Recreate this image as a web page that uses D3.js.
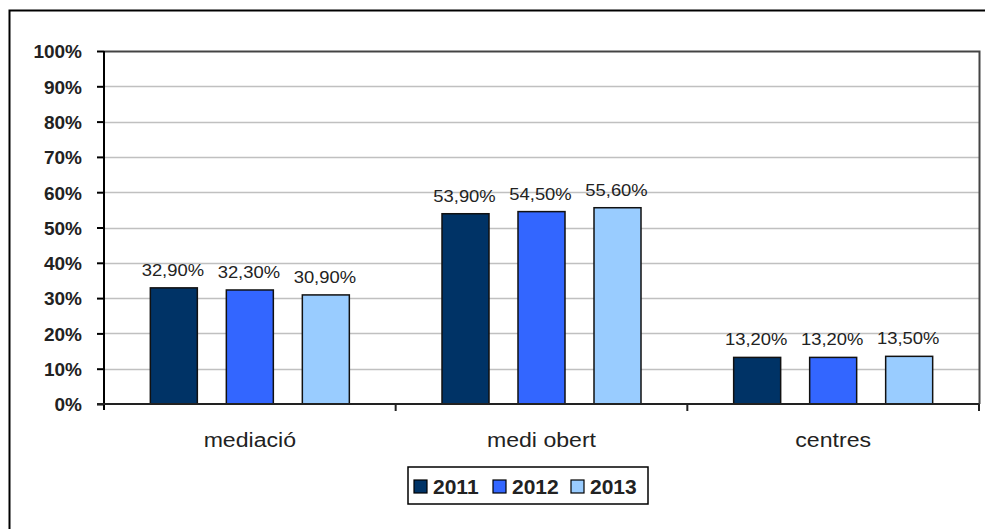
<!DOCTYPE html>
<html><head><meta charset="utf-8">
<script src="https://cdn.jsdelivr.net/npm/d3@7"></script>
<style>body{margin:0;background:#fff}svg{display:block}</style>
</head><body>
<svg id="c" width="985" height="529"></svg>
<script>
const categories = ["mediació", "medi obert", "centres"];
const seriesNames = ["2011", "2012", "2013"];
const values2011 = [32.9, 53.9, 13.2];
const values2012 = [32.3, 54.5, 13.2];
const values2013 = [30.9, 55.6, 13.5];
const yTicks = [0,10,20,30,40,50,60,70,80,90,100];
const colors = ["#003366", "#3366ff", "#99ccff"];

const series = [values2011, values2012, values2013];
const svg = d3.select("#c");
const font = "'Liberation Sans', Arial, sans-serif";

// outer frame
svg.append("rect").attr("x",9.5).attr("y",10.5).attr("width",990).attr("height",530)
  .attr("fill","none").attr("stroke","#000").attr("stroke-width",2);

const L=104, R=979, T=51, B=404;
const x0 = d3.scaleBand().domain(categories).range([L,R]).paddingInner(0).paddingOuter(0);
const y = d3.scaleLinear().domain([0,100]).range([B,T]);

// grid
svg.append("g").selectAll("line").data(yTicks.filter(d=>d>0&&d<100)).join("line")
  .attr("x1",L).attr("x2",R).attr("y1",d=>Math.round(y(d))+0.5).attr("y2",d=>Math.round(y(d))+0.5)
  .attr("stroke","#c0c0c0").attr("stroke-width",1.5);

// plot border top/right
svg.append("path").attr("d",`M${L},${T+0.5}H${R+0.5}V${B}`).attr("fill","none")
  .attr("stroke","#444").attr("stroke-width",2);

// bars
const bw = 47, gap = 29;
const groupW = bw*3+gap*2;
categories.forEach((c,ci)=>{
  const start = x0(c) + (x0.bandwidth()-groupW)/2;
  series.forEach((vals,si)=>{
    const bx = start + si*(bw+gap);
    svg.append("rect").attr("x",bx).attr("y",y(vals[ci])).attr("width",bw).attr("height",B-y(vals[ci]))
      .attr("fill",colors[si]).attr("stroke","#111").attr("stroke-width",1.5);
    svg.append("text").attr("transform",`translate(${bx+bw/2-1},${y(vals[ci])-12}) scale(1.15,1)`)
      .attr("text-anchor","middle").attr("font-family",font).attr("font-size",16).attr("fill","#222")
      .text(vals[ci].toFixed(2).replace(".",",")+"%");
  });
});

// y axis
const yAxis = d3.axisLeft(y).tickValues(yTicks).tickSize(7).tickFormat(d=>d+"%");
const ya = svg.append("g").attr("transform",`translate(${L},0)`).call(yAxis);
ya.select(".domain").attr("stroke","#000").attr("stroke-width",2).attr("d",`M0,${T}V${B+6}`);
ya.selectAll(".tick line").attr("stroke","#000").attr("stroke-width",2);
ya.selectAll(".tick text").attr("font-family",font).attr("font-size",19).attr("font-weight","bold")
  .attr("fill","#222").attr("x",-22).attr("dy","0.36em");

// x axis
svg.append("line").attr("x1",L-7).attr("x2",R).attr("y1",B).attr("y2",B).attr("stroke","#222").attr("stroke-width",2);
const bounds = categories.map(c=>x0(c)).concat([R]).slice(1);
svg.append("g").selectAll("line").data(bounds).join("line")
  .attr("x1",d=>d).attr("x2",d=>d).attr("y1",B).attr("y2",B+7).attr("stroke","#222").attr("stroke-width",2);
svg.append("g").selectAll("text").data(categories).join("text")
  .attr("transform",d=>`translate(${x0(d)+x0.bandwidth()/2},447) scale(1.1,1)`)
  .attr("text-anchor","middle").attr("font-family",font).attr("font-size",21).attr("fill","#222")
  .text(d=>d);

// legend
const lg = svg.append("g");
lg.append("rect").attr("x",408).attr("y",467).attr("width",240).attr("height",37)
  .attr("fill","#fff").attr("stroke","#000").attr("stroke-width",1.5);
const lx = [414, 493, 571];
seriesNames.forEach((n,i)=>{
  lg.append("rect").attr("x",lx[i]).attr("y",480).attr("width",13).attr("height",13)
    .attr("fill",colors[i]).attr("stroke","#000").attr("stroke-width",1.2);
  lg.append("text").attr("x",lx[i]+19).attr("y",494).attr("font-family",font).attr("font-size",21)
    .attr("font-weight","bold").attr("fill","#222").text(n);
});
</script>
</body></html>
